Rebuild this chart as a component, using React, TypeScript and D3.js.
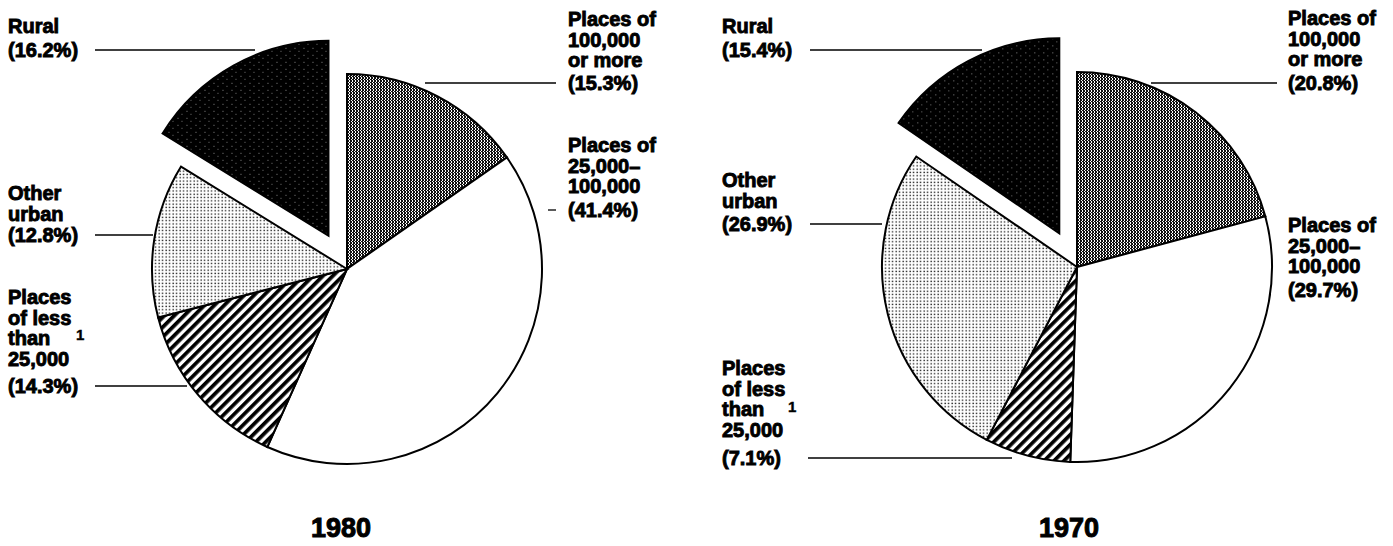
import React from 'react'
import * as d3 from 'd3'

// slices clockwise from 12 o'clock
const categories = ['Places of 100,000 or more', 'Places of 25,000-100,000', 'Places of less than 25,000', 'Other urban', 'Rural']
const labelLines = [
  ['Places of', '100,000', 'or more'],
  ['Places of', '25,000–', '100,000'],
  ['Places', 'of less', 'than', '25,000'],
  ['Other', 'urban'],
  ['Rural'],
]
const share1980 = [15.3, 41.4, 14.3, 12.8, 16.2]
const share1970 = [20.8, 29.7, 7.1, 26.9, 15.4]
const years = ['1980', '1970']

const fills = ['url(#dense)', '#fff', 'url(#stripes)', 'url(#dots)', 'url(#rural)']

type LabelPos = { x: number; y: number; pctY: number; leader?: [number, number] }
type PieLayout = { cx: number; cy: number; yearX: number; foot: [number, number]; labels: LabelPos[] }

const layouts: PieLayout[] = [
  {
    cx: 347, cy: 269, yearX: 341, foot: [76, 340],
    labels: [
      { x: 568, y: 26, pctY: 90, leader: [425, 556] },
      { x: 568, y: 152, pctY: 217, leader: [548, 556] },
      { x: 8, y: 304, pctY: 393, leader: [95, 187] },
      { x: 8, y: 200, pctY: 242, leader: [95, 153] },
      { x: 8, y: 33, pctY: 57, leader: [95, 255] },
    ],
  },
  {
    cx: 1077, cy: 267, yearX: 1069, foot: [788, 412],
    labels: [
      { x: 1288, y: 25, pctY: 90, leader: [1151, 1277] },
      { x: 1288, y: 232, pctY: 297 },
      { x: 722, y: 375, pctY: 465, leader: [808, 1012] },
      { x: 722, y: 187, pctY: 231, leader: [810, 882] },
      { x: 722, y: 33, pctY: 57, leader: [810, 982] },
    ],
  },
]

const R = 195
const EXPLODE = 38
const LINE_H = 20.5
const font = "'Liberation Sans', Arial, Helvetica, sans-serif"

function Pie({ shares, layout, year }: { shares: number[]; layout: PieLayout; year: string }) {
  const arcs = d3.pie<number>().sort(null).value(d => d)(shares)
  const arc = d3.arc<d3.PieArcDatum<number>>().innerRadius(0).outerRadius(R)
  const txt = { fontFamily: font, fontWeight: 700, fontSize: 20, fill: '#000', stroke: '#000', strokeWidth: 0.9 }

  return (
    <g>
      <g transform={`translate(${layout.cx},${layout.cy})`}>
        {arcs.map((a, i) => {
          const mid = (a.startAngle + a.endAngle) / 2
          const off = i === 4 ? EXPLODE : 0
          const dx = Math.sin(mid) * off
          const dy = -Math.cos(mid) * off
          return (
            <path key={categories[i]} d={arc(a) || ''} transform={`translate(${dx},${dy})`}
              fill={fills[i]} stroke="#000" strokeWidth={2} strokeLinejoin="miter" />
          )
        })}
      </g>
      {layout.labels.map((l, i) => (
        <g key={i}>
          <text {...txt}>
            {labelLines[i].map((s, j) => (
              <tspan key={j} x={l.x} y={l.y + j * LINE_H}>{s}</tspan>
            ))}
            <tspan x={l.x} y={l.pctY}>({shares[i].toFixed(1)}%)</tspan>
          </text>
          {l.leader && (
            <line x1={l.leader[0]} x2={l.leader[1]} y1={l.pctY - 7} y2={l.pctY - 7} stroke="#000" strokeWidth={1.3} />
          )}
        </g>
      ))}
      <text x={layout.foot[0]} y={layout.foot[1]} {...txt} fontSize={15} strokeWidth={0.4}>1</text>
      <text x={layout.yearX} y={537} textAnchor="middle" {...txt} fontSize={27} strokeWidth={1}>{year}</text>
    </g>
  )
}

export default function App() {
  return (
    <svg width={1393} height={546} style={{ position: 'absolute', left: 0, top: 0, background: '#fff' }}>
      <defs>
        <pattern id="dense" width={3} height={3} patternUnits="userSpaceOnUse">
          <rect width={3} height={3} fill="#111" />
          <rect x={2} y={0} width={1} height={2} fill="#fff" />
          <rect x={1} y={2} width={1} height={1} fill="#fff" />
        </pattern>
        <pattern id="stripes" width={7} height={7} patternUnits="userSpaceOnUse" patternTransform="rotate(45)">
          <rect width={7} height={7} fill="#fff" />
          <rect width={3.7} height={7} fill="#000" />
        </pattern>
        <pattern id="dots" width={3.5} height={3.3} patternUnits="userSpaceOnUse">
          <rect width={3.5} height={3.3} fill="#fff" />
          <rect x={0.5} y={0.5} width={1.3} height={1.3} fill="#000" />
        </pattern>
        <pattern id="rural" width={9} height={7} patternUnits="userSpaceOnUse">
          <rect width={9} height={7} fill="#000" />
          <rect x={2} y={1} width={1} height={1} fill="#888" />
          <rect x={6} y={4} width={1} height={1} fill="#777" />
        </pattern>
      </defs>
      <Pie shares={share1980} layout={layouts[0]} year={years[0]} />
      <Pie shares={share1970} layout={layouts[1]} year={years[1]} />
    </svg>
  )
}
